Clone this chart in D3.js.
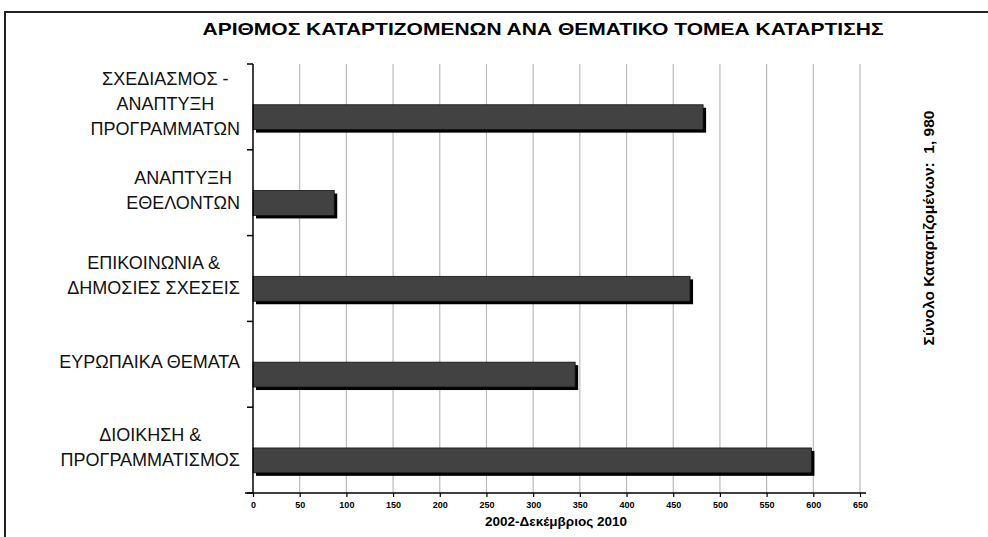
<!DOCTYPE html>
<html><head><meta charset="utf-8">
<script src="https://cdn.jsdelivr.net/npm/d3@7/dist/d3.min.js"></script>
<style>body{margin:0;background:#fff}svg{display:block}text{font-family:"Liberation Sans",Arial,sans-serif}</style>
</head><body>
<svg id="c" width="988" height="537"></svg>
<script>
const categories = [
  ["ΣΧΕΔΙΑΣΜΟΣ -","ΑΝΑΠΤΥΞΗ","ΠΡΟΓΡΑΜΜΑΤΩΝ"],
  ["ΑΝΑΠΤΥΞΗ","ΕΘΕΛΟΝΤΩΝ"],
  ["ΕΠΙΚΟΙΝΩΝΙΑ &","ΔΗΜΟΣΙΕΣ ΣΧΕΣΕΙΣ"],
  ["ΕΥΡΩΠΑΙΚΑ ΘΕΜΑΤΑ"],
  ["ΔΙΟΙΚΗΣΗ &","ΠΡΟΓΡΑΜΜΑΤΙΣΜΟΣ"]
];
const values = [482, 87, 468, 345, 598];
const xTicks = [0,50,100,150,200,250,300,350,400,450,500,550,600,650];
const title = "ΑΡΙΘΜΟΣ ΚΑΤΑΡΤΙΖΟΜΕΝΩΝ ΑΝΑ ΘΕΜΑΤΙΚΟ ΤΟΜΕΑ ΚΑΤΑΡΤΙΣΗΣ";
const xTitle = "2002-Δεκέμβριος 2010";
const sideText = "Σύνολο Καταρτιζομένων:  1, 980";

const svg = d3.select("#c");
const L = 253, R = 860, T = 64, B = 493;
const x = d3.scaleLinear().domain([0,650]).range([L,R]);
const y = d3.scaleBand().domain(d3.range(categories.length)).range([T,B]).paddingInner(0).paddingOuter(0);
const bw = y.bandwidth();

// frame
svg.append("rect").attr("x",5).attr("y",12).attr("width",1100).attr("height",700)
  .attr("fill","none").attr("stroke","#222").attr("stroke-width",2);

// gridlines
svg.append("g").selectAll("line").data(xTicks.slice(1)).join("line")
  .attr("x1",d=>x(d)).attr("x2",d=>x(d)).attr("y1",T).attr("y2",B)
  .attr("stroke","#bbbbbb").attr("stroke-width",1.2);

// bars
const bars = svg.append("g");
bars.selectAll("rect.sh").data(values).join("rect").attr("class","sh")
  .attr("x",x(0)+3).attr("y",(d,i)=>y(i)+bw*0.475+3)
  .attr("width",d=>x(d)-x(0)).attr("height",bw*0.29)
  .attr("fill","#000");
bars.selectAll("rect.fc").data(values).join("rect").attr("class","fc")
  .attr("x",x(0)).attr("y",(d,i)=>y(i)+bw*0.475)
  .attr("width",d=>x(d)-x(0)).attr("height",bw*0.29)
  .attr("fill","#424242").attr("stroke","#111").attr("stroke-width",0.8);

// y axis
svg.append("line").attr("x1",L).attr("x2",L).attr("y1",T).attr("y2",B).attr("stroke","#000").attr("stroke-width",1.5);
svg.append("g").selectAll("line").data(d3.range(categories.length+1)).join("line")
  .attr("x1",L-6).attr("x2",L).attr("y1",d=>T+d*bw).attr("y2",d=>T+d*bw)
  .attr("stroke","#000").attr("stroke-width",1.5);

// x axis
const xAxis = svg.append("g").attr("transform",`translate(0,${B})`)
  .call(d3.axisBottom(x).tickValues(xTicks).tickSize(4).tickFormat(d3.format("d")));
xAxis.select(".domain").remove();
xAxis.selectAll(".tick line").attr("stroke","#000").attr("stroke-width",1.2);
xAxis.selectAll(".tick text").attr("font-size",9).attr("font-weight","bold").attr("fill","#000")
  .attr("font-family","Liberation Sans, Arial, sans-serif").attr("dy","0.9em");
svg.append("line").attr("x1",L-8).attr("x2",R+6).attr("y1",B).attr("y2",B).attr("stroke","#000").attr("stroke-width",1.5);

// category labels
const lab = svg.append("g");
categories.forEach((lines,i)=>{
  const g = lab.append("g");
  const lh = 25;
  const cy = y(i)+bw/2-3;
  const ts = lines.map((t,j)=> g.append("text").text(t)
      .attr("font-size",18).attr("fill","#111")
      .attr("text-anchor","middle")
      .attr("y", cy + (j-(lines.length-1)/2)*lh).attr("dy","0.35em"));
  const mw = d3.max(ts, t=>t.node().getComputedTextLength());
  ts.forEach(t=>t.attr("x", 240 - mw/2));
});

// title
svg.append("text").text(title).attr("x",543).attr("y",29).attr("dy","0.35em")
  .attr("text-anchor","middle").attr("font-size",17).attr("font-weight","bold")
  .attr("textLength",681).attr("lengthAdjust","spacingAndGlyphs");

// x title
svg.append("text").text(xTitle).attr("x",556).attr("y",521).attr("dy","0.35em")
  .attr("text-anchor","middle").attr("font-size",13.5).attr("font-weight","bold");

// side text
svg.append("text").text(sideText).attr("transform","translate(929,228) rotate(-90)")
  .attr("dy","0.35em").attr("text-anchor","middle").attr("font-size",15.5).attr("font-weight","bold")
  .attr("xml:space","preserve").style("white-space","pre");
</script>
</body></html>
